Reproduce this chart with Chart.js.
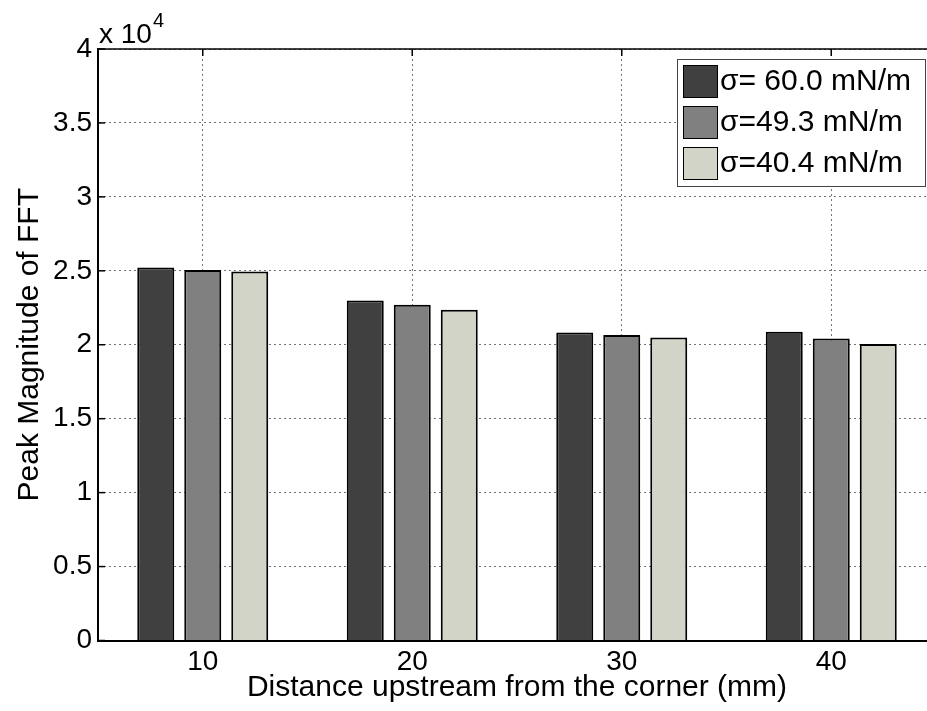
<!DOCTYPE html>
<html>
<head>
<meta charset="utf-8">
<script src="https://cdn.jsdelivr.net/npm/chart.js@4.4.1/dist/chart.umd.min.js"></script>
<style>
  html, body { margin: 0; padding: 0; background: #fff; overflow: hidden; }
  #wrap { width: 927px; height: 711px; overflow: hidden; }
  canvas { display: block; }
</style>
</head>
<body>
<div id="wrap"><canvas id="c" width="960" height="711"></canvas></div>
<script>
const categories = ["10", "20", "30", "40"];
const seriesLabels = ["\u03C3= 60.0 mN/m", "\u03C3=49.3 mN/m", "\u03C3=40.4 mN/m"];
const sigma60 = [25230, 23000, 20830, 20880];
const sigma49 = [25050, 22710, 20660, 20430];
const sigma40 = [24960, 22370, 20490, 20050];
const seriesColors = ["#404040", "#808080", "#d3d4c8"];
const yTickStep = 5000;
const yMax = 40000;
const xTitle = "Distance upstream from the corner (mm)";
const yTitle = "Peak Magnitude of FFT";
const FONT = "'Liberation Sans', Arial, sans-serif";

const frameAndTicks = {
  id: 'frameAndTicks',
  beforeDatasetsDraw(chart) {
    const {ctx, chartArea: a, scales} = chart;
    ctx.save();
    ctx.strokeStyle = '#000';
    ctx.lineWidth = 1.5;
    scales.y.ticks.forEach((t, i) => {
      const y = scales.y.getPixelForTick(i);
      ctx.beginPath(); ctx.moveTo(a.left, y); ctx.lineTo(a.left + 7, y); ctx.stroke();
    });
    scales.x.ticks.forEach((t, i) => {
      const x = scales.x.getPixelForTick(i);
      ctx.beginPath(); ctx.moveTo(x, a.top); ctx.lineTo(x, a.top + 7); ctx.stroke();
      ctx.beginPath(); ctx.moveTo(x, a.bottom); ctx.lineTo(x, a.bottom - 7); ctx.stroke();
    });
    ctx.restore();
  },
  afterDraw(chart) {
    const {ctx, chartArea: a} = chart;
    ctx.save();
    ctx.strokeStyle = '#000';
    ctx.lineWidth = 1.5;
    ctx.beginPath(); ctx.moveTo(a.left, a.top); ctx.lineTo(a.right, a.top); ctx.stroke();
    ctx.fillStyle = '#000';
    ctx.textBaseline = 'alphabetic';
    ctx.textAlign = 'left';
    ctx.font = "28px " + FONT;
    ctx.fillText("x 10", a.left + 1, a.top - 6);
    const w = ctx.measureText("x 10").width;
    ctx.font = "20px " + FONT;
    ctx.fillText("4", a.left + 1 + w + 1, a.top - 22);
    const lx = 677, ly = 59, lw = 248, lh = 127;
    ctx.fillStyle = '#fff';
    ctx.fillRect(lx, ly, lw, lh);
    ctx.strokeStyle = '#444';
    ctx.lineWidth = 1;
    ctx.strokeRect(lx + 0.5, ly + 0.5, lw, lh);
    const rows = [81, 122, 163];
    chart.data.datasets.forEach((ds, i) => {
      ctx.fillStyle = ds.backgroundColor;
      ctx.fillRect(683, rows[i] - 16, 34, 32);
      ctx.strokeStyle = '#000';
      ctx.lineWidth = 1;
      ctx.strokeRect(683.5, rows[i] - 15.5, 34, 32);
      ctx.fillStyle = '#000';
      ctx.font = "30px " + FONT;
      ctx.textBaseline = 'middle';
      ctx.fillText(ds.label, 720, rows[i] + 1);
    });
    ctx.restore();
  }
};

const datasets = [sigma60, sigma49, sigma40].map((d, i) => ({
  label: seriesLabels[i],
  data: d,
  backgroundColor: seriesColors[i],
  borderColor: '#000',
  borderWidth: 2,
  borderSkipped: 'bottom',
  categoryPercentage: 0.673,
  barPercentage: 0.787
}));

new Chart(document.getElementById('c'), {
  type: 'bar',
  data: { labels: categories, datasets },
  options: {
    responsive: false,
    animation: false,
    devicePixelRatio: 1,
    layout: { padding: { top: 49, right: 24, left: 0, bottom: 0 } },
    plugins: { legend: { display: false }, tooltip: { enabled: false } },
    scales: {
      x: {
        grid: { offset: false, drawTicks: false, color: 'rgba(0,0,0,0.55)', lineWidth: 1 },
        border: { display: true, color: '#000', width: 2, dash: [2, 3] },
        ticks: { color: '#000', font: { family: FONT, size: 28 }, padding: 5 },
        title: { display: true, text: xTitle, color: '#000', font: { family: FONT, size: 30 }, padding: { top: 0, bottom: 5 } },
        afterFit(s) { s.height = 70.5; }
      },
      y: {
        min: 0, max: yMax,
        grid: { drawTicks: false, color: 'rgba(0,0,0,0.55)', lineWidth: 1 },
        border: { display: true, color: '#000', width: 2, dash: [2, 3] },
        ticks: {
          stepSize: yTickStep, color: '#000', font: { family: FONT, size: 28 }, padding: 6,
          callback: v => String(v / 10000)
        },
        title: { display: true, text: yTitle, color: '#000', font: { family: FONT, size: 30 }, padding: { top: 12, bottom: 0 } },
        afterFit(s) { s.width = 98; }
      }
    }
  },
  plugins: [frameAndTicks]
});
</script>
</body>
</html>
